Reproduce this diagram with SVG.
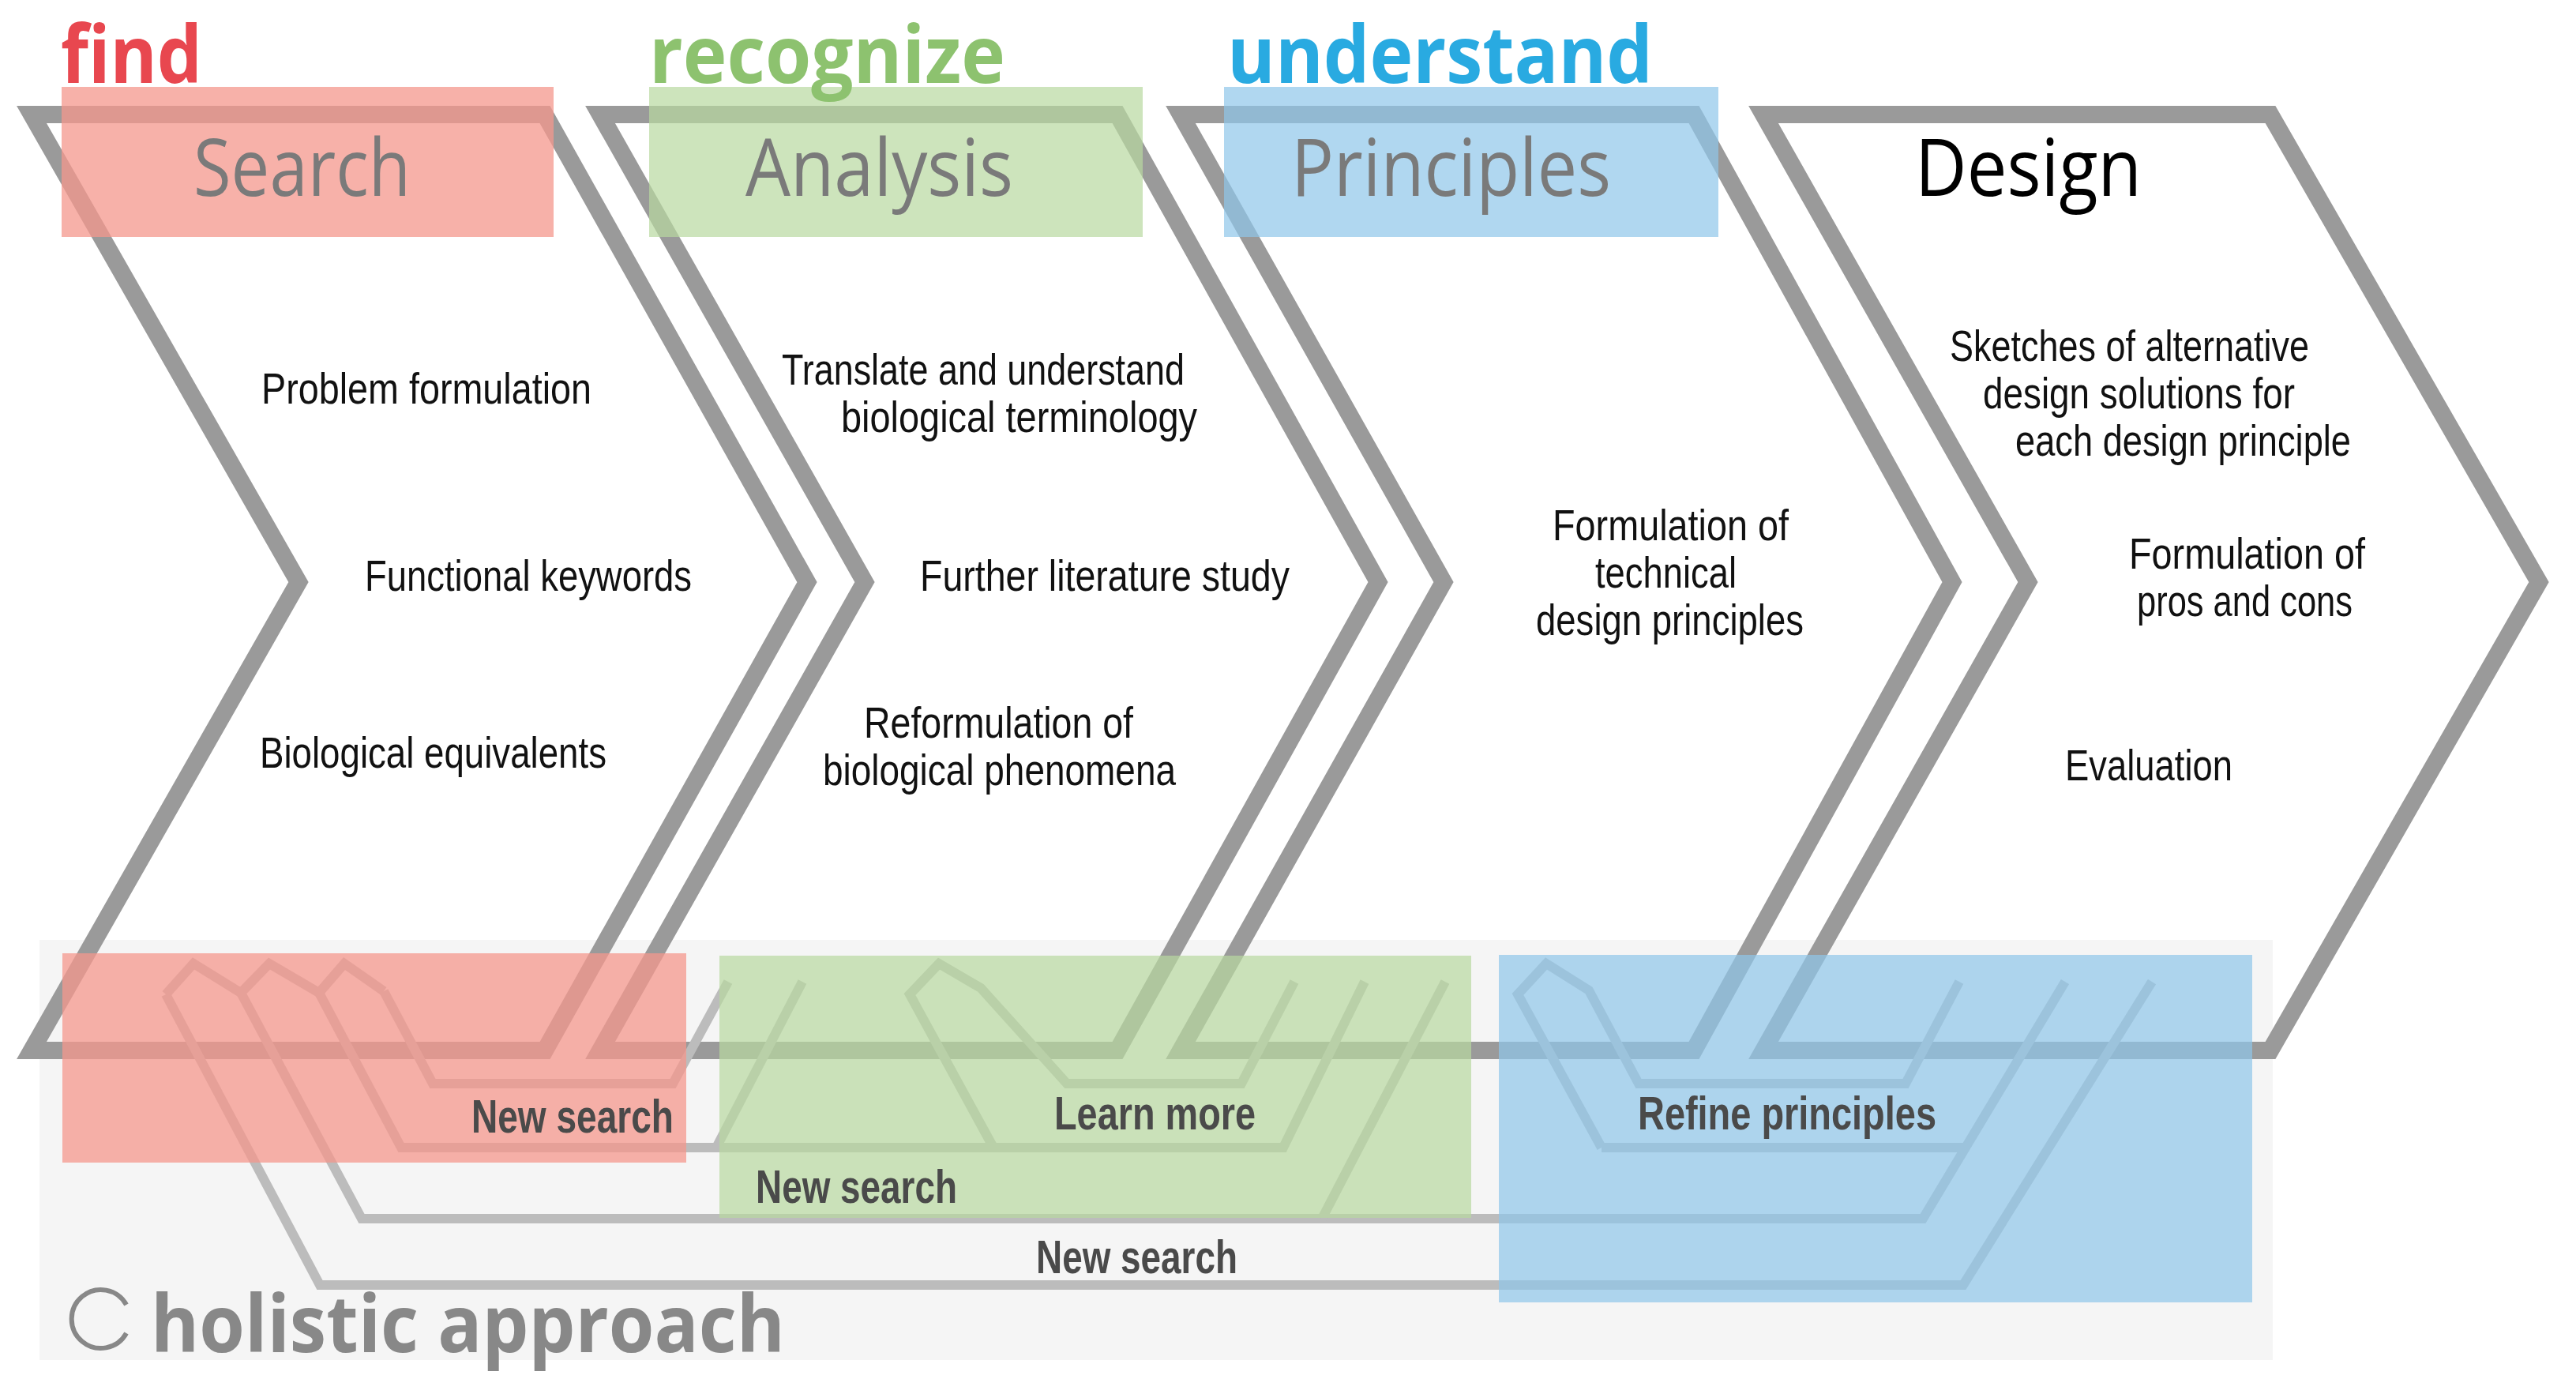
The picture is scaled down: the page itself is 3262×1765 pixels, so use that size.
<svg xmlns="http://www.w3.org/2000/svg" width="3262" height="1765" viewBox="0 0 3262 1765">
<style>
.chev{fill:none;stroke:#9a9a9a;stroke-width:22;stroke-linejoin:miter}
.loop{fill:none;stroke:#bcbcbc;stroke-width:12;stroke-linejoin:miter}
.pink{fill:#f4978c;opacity:.75}
.green{fill:#b8d8a0;opacity:.7}
.blue{fill:#8fc6ea;opacity:.7}
.head{font-family:"Open Sans","Liberation Sans",sans-serif;font-weight:700;font-size:100px}
.title{font-family:"Open Sans","Liberation Sans",sans-serif;font-size:100px;fill:#7a7a7a}
.body{font-family:"Liberation Sans Narrow","Liberation Sans",sans-serif;font-size:56px;fill:#111}
.lbl{font-family:"Liberation Sans Narrow","Liberation Sans",sans-serif;font-weight:700;font-size:60px;fill:#4a4a4a}
</style>
<rect x="0" y="0" width="3262" height="1765" fill="#fff"/>
<rect id="holistic-bg" x="50" y="1190" width="2828" height="532" fill="#f5f5f5"/>
<g id="chevrons">
<path id="ch1" class="chev" d="M40,145 L690,145 L1022,737 L690,1330 L40,1330 L378,737 Z"/>
<path id="ch2" class="chev" d="M760,145 L1415,145 L1745,737 L1415,1330 L760,1330 L1095,737 Z"/>
<path id="ch3" class="chev" d="M1495,145 L2145,145 L2472,737 L2145,1330 L1495,1330 L1828,737 Z"/>
<path id="ch4" class="chev" d="M2233,145 L2875,145 L3215,737 L2875,1330 L2233,1330 L2568,737 Z"/>
</g>
<g id="connectors">
<path class="loop" d="M210,1259 L405,1627 L2486,1627 L2725,1243"/>
<path class="loop" d="M210,1259 L245,1220 L305,1257 L341,1220 L404,1257 L436,1220 L486,1255"/>
<path class="loop" d="M305,1257 L458,1543 L2435,1543 L2615,1243"/>
<path class="loop" d="M404,1257 L508,1453 L1625,1453 L1728,1243"/>
<path class="loop" d="M486,1255 L548,1372 L852,1372 L922,1243"/>
<path class="loop" d="M907,1453 L1016,1243"/>
<path class="loop" d="M1674,1543 L1830,1243"/>
<path class="loop" d="M1258,1453 L1152,1259 L1189,1220 L1242,1251 L1351,1372 L1572,1372 L1639,1243"/>
<path class="loop" d="M2028,1453 L1922,1259 L1958,1220 L2012,1254 L2075,1372 L2413,1372 L2481,1243"/>
<path class="loop" d="M2028,1453 L2489,1453"/>
</g>
<g id="boxes">
<rect class="pink" x="78" y="110" width="623" height="190"/>
<rect class="green" x="822" y="110" width="625" height="190"/>
<rect class="blue" x="1550" y="110" width="626" height="190"/>
<rect class="pink" x="79" y="1207" width="790" height="265"/>
<rect class="green" x="911" y="1210" width="952" height="332"/>
<rect class="blue" x="1898" y="1209" width="954" height="440"/>
</g>
<g id="headers">
<text class="head" x="77" y="105" fill="#e8474f" textLength="179" lengthAdjust="spacingAndGlyphs">find</text>
<text class="head" x="822" y="105" fill="#8dc26f" textLength="451" lengthAdjust="spacingAndGlyphs">recognize</text>
<text class="head" x="1554" y="105" fill="#29aae1" textLength="539" lengthAdjust="spacingAndGlyphs">understand</text>
</g>
<g id="stage-search">
<text class="title" x="245" y="248" textLength="275" lengthAdjust="spacingAndGlyphs">Search</text>
<text class="body" x="331" y="511" textLength="418" lengthAdjust="spacingAndGlyphs">Problem formulation</text>
<text class="body" x="462" y="748" textLength="414" lengthAdjust="spacingAndGlyphs">Functional keywords</text>
<text class="body" x="329" y="972" textLength="439" lengthAdjust="spacingAndGlyphs">Biological equivalents</text>
</g>
<g id="stage-analysis">
<text class="title" x="944" y="248" textLength="339" lengthAdjust="spacingAndGlyphs">Analysis</text>
<text class="body" x="990" y="487" textLength="510" lengthAdjust="spacingAndGlyphs">Translate and understand</text>
<text class="body" x="1065" y="547" textLength="451" lengthAdjust="spacingAndGlyphs">biological terminology</text>
<text class="body" x="1165" y="748" textLength="468" lengthAdjust="spacingAndGlyphs">Further literature study</text>
<text class="body" x="1094" y="934" textLength="341" lengthAdjust="spacingAndGlyphs">Reformulation of</text>
<text class="body" x="1042" y="994" textLength="447" lengthAdjust="spacingAndGlyphs">biological phenomena</text>
</g>
<g id="stage-principles">
<text class="title" x="1635" y="248" textLength="405" lengthAdjust="spacingAndGlyphs">Principles</text>
<text class="body" x="1966" y="684" textLength="299" lengthAdjust="spacingAndGlyphs">Formulation of</text>
<text class="body" x="2020" y="744" textLength="179" lengthAdjust="spacingAndGlyphs">technical</text>
<text class="body" x="1945" y="804" textLength="339" lengthAdjust="spacingAndGlyphs">design principles</text>
</g>
<g id="stage-design">
<text class="title" x="2425" y="248" style="fill:#000" textLength="287" lengthAdjust="spacingAndGlyphs">Design</text>
<text class="body" x="2469" y="457" textLength="455" lengthAdjust="spacingAndGlyphs">Sketches of alternative</text>
<text class="body" x="2511" y="517" textLength="395" lengthAdjust="spacingAndGlyphs">design solutions for</text>
<text class="body" x="2552" y="577" textLength="425" lengthAdjust="spacingAndGlyphs">each design principle</text>
<text class="body" x="2696" y="720" textLength="299" lengthAdjust="spacingAndGlyphs">Formulation of</text>
<text class="body" x="2706" y="780" textLength="273" lengthAdjust="spacingAndGlyphs">pros and cons</text>
<text class="body" x="2615" y="988" textLength="212" lengthAdjust="spacingAndGlyphs">Evaluation</text>
</g>
<g id="loop-labels">
<text class="lbl" x="597" y="1434" textLength="256" lengthAdjust="spacingAndGlyphs">New search</text>
<text class="lbl" x="1335" y="1430" textLength="255" lengthAdjust="spacingAndGlyphs">Learn more</text>
<text class="lbl" x="957" y="1523" textLength="255" lengthAdjust="spacingAndGlyphs">New search</text>
<text class="lbl" x="1312" y="1612" textLength="255" lengthAdjust="spacingAndGlyphs">New search</text>
<text class="lbl" x="2074" y="1430" textLength="378" lengthAdjust="spacingAndGlyphs">Refine principles</text>
</g>
<g id="holistic">
<path d="M160,1652 A37,37 0 1 0 160,1688" fill="none" stroke="#888" stroke-width="6"/>
<text x="191" y="1712" font-family="'Open Sans','Liberation Sans',sans-serif" font-weight="700" font-size="100" fill="#888" textLength="803" lengthAdjust="spacingAndGlyphs">holistic approach</text>
</g>
</svg>
